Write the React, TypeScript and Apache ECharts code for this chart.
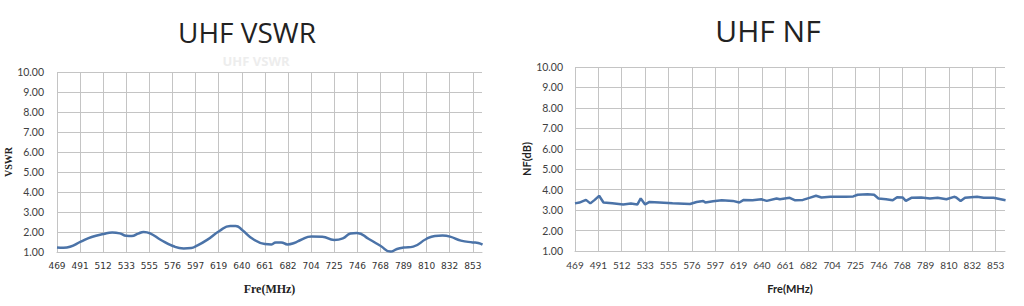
import React, { useEffect, useRef } from "react";
import * as echarts from "echarts";

const TICK_LABELS = ["469","491","512","533","555","576","597","619","640","661","682","704","725","746","768","789","810","832","853"];
const Y_LABEL_MIN = 1;
const Y_LABEL_MAX = 10;

const VSWR_FREQ = [469,475,481,491,501,512,520,527,533,538,544,549,555,565,576,586,593,597,608,619,629,634,640,650,661,667,671,676,682,688,694,704,714,725,733,740,746,757,768,777,783,789,798,810,818,825,832,842,853,858,862];
const VSWR_VALUES = [1.22,1.21,1.26,1.52,1.75,1.9,1.97,1.93,1.81,1.8,1.92,2.0,1.93,1.6,1.3,1.18,1.2,1.28,1.62,2.05,2.3,2.3,2.1,1.65,1.4,1.38,1.48,1.48,1.38,1.45,1.6,1.77,1.76,1.6,1.68,1.92,1.95,1.65,1.3,1.02,1.15,1.22,1.27,1.65,1.8,1.82,1.77,1.57,1.48,1.45,1.37];

const NF_FREQ = [469,473,479,483,487,491,495,503,513,520,526,529,533,537,546,558,574,580,586,588,595,603,613,619,623,631,639,644,653,656,665,670,677,683,689,694,702,716,723,727,736,742,746,753,759,763,768,771,776,785,793,800,808,815,817,821,825,836,842,851,862];
const NF_VALUES = [3.33,3.37,3.5,3.33,3.5,3.7,3.37,3.33,3.28,3.32,3.28,3.57,3.28,3.4,3.37,3.33,3.3,3.4,3.45,3.37,3.43,3.48,3.45,3.37,3.5,3.48,3.53,3.45,3.57,3.53,3.6,3.48,3.5,3.6,3.7,3.62,3.65,3.65,3.67,3.75,3.77,3.75,3.57,3.53,3.48,3.63,3.62,3.45,3.6,3.62,3.57,3.6,3.53,3.65,3.62,3.45,3.6,3.65,3.6,3.6,3.48];

const X_MIN = 469;
const X_MAX = 861.5;
const X_STEP = (853 - 469) / 18;

const LINE_COLOR = "#4b73a8";
const GRID_COLOR = "#c4c4c4";

function xLabel(v: number): string {
  const k = Math.round((v - X_MIN) / X_STEP);
  if (k < 0 || k >= TICK_LABELS.length) return "";
  if (Math.abs(v - (X_MIN + k * X_STEP)) > 0.01) return "";
  return TICK_LABELS[k];
}

function makeXAxis(gridIndex: number, labelFont: any, nameFont: any, nameGap: number, labelMargin: number) {
  return {
    type: "value",
    gridIndex,
    min: X_MIN,
    max: X_MAX,
    interval: X_STEP,
    name: "Fre(MHz)",
    nameLocation: "middle",
    nameGap,
    nameTextStyle: nameFont,
    axisLine: { show: true, lineStyle: { color: GRID_COLOR, width: 1 } },
    axisTick: { show: false },
    axisLabel: { ...labelFont, margin: labelMargin, formatter: xLabel, showMaxLabel: false },
    splitLine: { show: true, showMaxLine: false, lineStyle: { color: GRID_COLOR, width: 1 } },
  };
}

function makeYAxis(gridIndex: number, name: string, labelFont: any, nameFont: any, nameGap: number, labelMargin: number) {
  return {
    type: "value",
    gridIndex,
    min: Y_LABEL_MIN,
    max: Y_LABEL_MAX,
    interval: 1,
    name,
    nameLocation: "middle",
    nameGap,
    nameRotate: 90,
    nameTextStyle: nameFont,
    axisLine: { show: false },
    axisTick: { show: false },
    axisLabel: { ...labelFont, margin: labelMargin, formatter: (v: number) => v.toFixed(2) },
    splitLine: { show: true, lineStyle: { color: GRID_COLOR, width: 1 } },
  };
}

export default function App() {
  const ref = useRef<HTMLDivElement>(null);

  useEffect(() => {
    if (!ref.current) return;
    const chart = echarts.init(ref.current, undefined, { renderer: "svg" });

    const vswrData = VSWR_FREQ.map((f, i) => [f, VSWR_VALUES[i]]);
    const nfData = NF_FREQ.map((f, i) => [f, NF_VALUES[i]]);

    const option: any = {
      animation: false,
      backgroundColor: "#ffffff",
      graphic: [
        {
          type: "text",
          x: 256,
          y: 61,
          style: {
            text: "UHF VSWR",
            fontFamily: "Open Sans",
            fontWeight: "bold",
            fontSize: 13,
            lineHeight: 11,
            fill: "#ededed",
            textAlign: "center",
            textVerticalAlign: "middle",
          },
        },
        {
          type: "text",
          x: 247,
          y: 32,
          style: {
            text: "UHF VSWR",
            fontFamily: "Open Sans",
            fontSize: 28,
            lineHeight: 22,
            fill: "#222222",
            textAlign: "center",
            textVerticalAlign: "middle",
          },
        },
        {
          type: "text",
          x: 768,
          y: 30,
          style: {
            text: "UHF NF",
            fontFamily: "Open Sans",
            fontSize: 30,
            fill: "#222222",
            textAlign: "center",
            textVerticalAlign: "middle",
          },
        },
      ],
      grid: [
        { left: 57, top: 72, width: 425, height: 180 },
        { left: 575, top: 67, width: 430, height: 184 },
      ],
      xAxis: [
        makeXAxis(
          0,
          { fontFamily: "DejaVu Sans", fontSize: 9, color: "#333333" },
          { fontFamily: "Liberation Serif", fontWeight: "bold", fontSize: 12, color: "#222222" },
          31,
          9
        ),
        makeXAxis(
          1,
          { fontFamily: "Lato", fontSize: 10, color: "#404040" },
          { fontFamily: "Lato", fontWeight: "bold", fontSize: 11, color: "#222222" },
          32,
          9
        ),
      ],
      yAxis: [
        makeYAxis(
          0,
          "VSWR",
          { fontFamily: "Lato", fontSize: 10.5, color: "#404040" },
          { fontFamily: "Liberation Serif", fontWeight: "bold", fontSize: 10, color: "#222222" },
          42,
          13
        ),
        makeYAxis(
          1,
          "NF(dB)",
          { fontFamily: "Lato", fontSize: 10.5, color: "#404040" },
          { fontFamily: "Lato", fontWeight: "bold", fontSize: 11, color: "#222222" },
          43,
          12
        ),
      ],
      series: [
        {
          type: "line",
          xAxisIndex: 0,
          yAxisIndex: 0,
          data: vswrData,
          smooth: true,
          showSymbol: false,
          lineStyle: { color: LINE_COLOR, width: 2.5 },
        },
        {
          type: "line",
          xAxisIndex: 1,
          yAxisIndex: 1,
          data: nfData,
          smooth: false,
          showSymbol: false,
          lineStyle: { color: LINE_COLOR, width: 2.5 },
        },
      ],
    };

    chart.setOption(option);
    return () => chart.dispose();
  }, []);

  return (
    <div
      ref={ref}
      style={{ position: "absolute", left: 0, top: 0, width: 1024, height: 306 }}
    />
  );
}
